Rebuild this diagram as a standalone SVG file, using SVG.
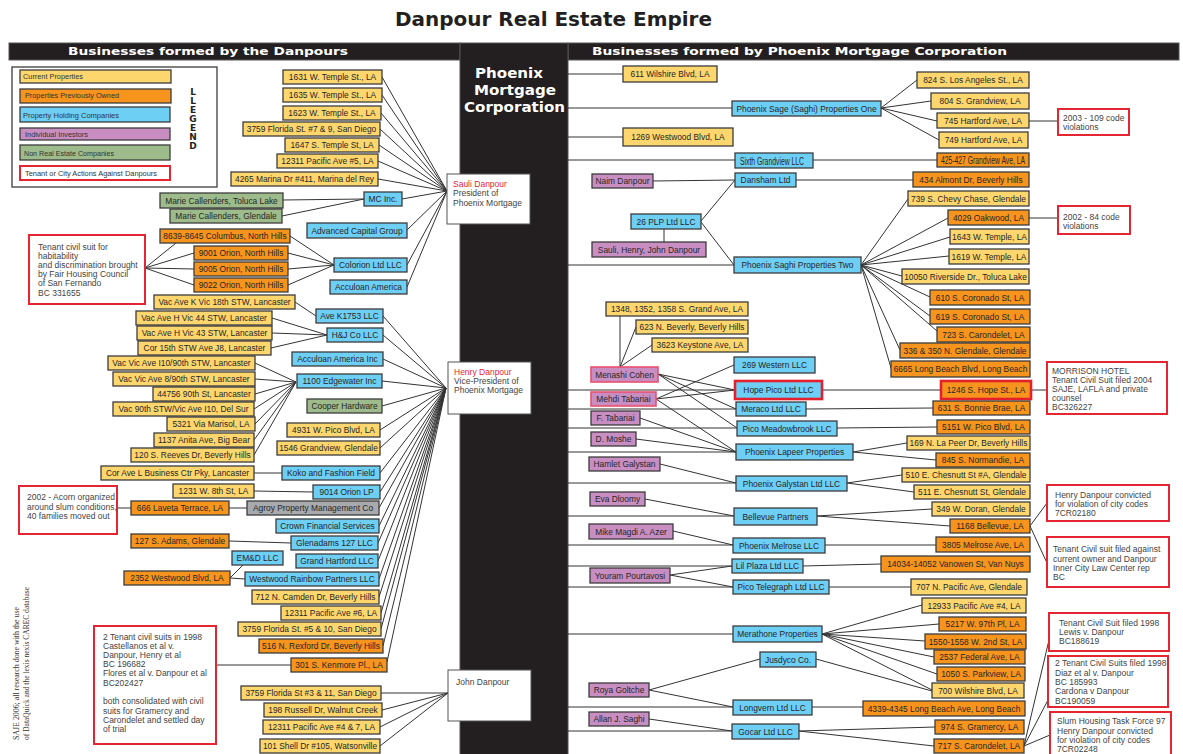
<svg xmlns="http://www.w3.org/2000/svg" width="1183" height="754" viewBox="0 0 1183 754">
<style>
rect{stroke:#3c3c3c;stroke-width:1.3}
.y{fill:#FDD76E}.o{fill:#F7941E}.b{fill:#6ECFF5}.p{fill:#C88EC2}.g{fill:#9EBC8B}.gr{fill:#A8AAAD}
.pk{fill:#C88EC2;stroke:#E9506E;stroke-width:1.6}
.hr{stroke:#E3202B;stroke-width:2.6}
.rb{fill:#fff;stroke:#E52531;stroke-width:2}
.wb{fill:#fff;stroke:#555;stroke-width:1}
.bar{fill:#231F20;stroke:#555;stroke-width:1}
.t{font-family:"Liberation Sans",Arial,sans-serif;font-size:8.4px;fill:#262626;text-anchor:middle}
.tn{font-family:"Liberation Sans",Arial,sans-serif;font-size:10px;fill:#262626}
.tl{font-family:"Liberation Sans",Arial,sans-serif;font-size:8.5px;fill:#444}
.lg{font-family:"Liberation Sans",Arial,sans-serif;font-size:8px;fill:#333}
.hd{font-family:"DejaVu Sans",sans-serif;font-weight:bold;fill:#fff}
.c{stroke:#333;stroke-width:1;fill:none}
</style>

<text x="395" y="26" font-family="DejaVu Sans, sans-serif" font-weight="bold" font-size="19" fill="#231F20" textLength="317" lengthAdjust="spacingAndGlyphs">Danpour Real Estate Empire</text>

<g id="headers">
<rect class="bar" x="9" y="43" width="451" height="17"/>
<rect class="bar" x="568" y="43" width="611" height="17"/>
<rect class="bar" x="460" y="43" width="108" height="712"/>
<text class="hd" x="68" y="55" font-size="11" textLength="280" lengthAdjust="spacingAndGlyphs">Businesses formed by the Danpours</text>
<text class="hd" x="592" y="55" font-size="11" textLength="415" lengthAdjust="spacingAndGlyphs">Businesses formed by Phoenix Mortgage Corporation</text>
<text class="hd" x="475" y="78" font-size="14" textLength="68" lengthAdjust="spacingAndGlyphs">Phoenix</text>
<text class="hd" x="474" y="95" font-size="14" textLength="82" lengthAdjust="spacingAndGlyphs">Mortgage</text>
<text class="hd" x="464" y="112" font-size="14" textLength="101" lengthAdjust="spacingAndGlyphs">Corporation</text>
</g>

<g id="legend">
<rect x="12" y="67" width="205" height="120" fill="#fff" stroke="#555" stroke-width="1.2"/>
<rect class="y" x="20" y="70" width="151" height="13"/>
<rect class="o" x="20" y="89" width="151" height="14"/>
<rect class="b" x="20" y="107" width="150" height="15"/>
<rect class="p" x="20" y="128" width="150" height="12"/>
<rect class="g" x="20" y="145" width="150" height="15"/>
<rect class="rb" x="20" y="166" width="150" height="14"/>
<text class="lg" x="23" y="79" textLength="60" lengthAdjust="spacingAndGlyphs">Current Properties</text>
<text class="lg" x="25" y="98" textLength="94" lengthAdjust="spacingAndGlyphs">Properties Previously Owned</text>
<text class="lg" x="23" y="118" textLength="96" lengthAdjust="spacingAndGlyphs">Property Holding Companies</text>
<text class="lg" x="25" y="137" textLength="63" lengthAdjust="spacingAndGlyphs">Individual Investors</text>
<text class="lg" x="24" y="156" textLength="90" lengthAdjust="spacingAndGlyphs">Non Real Estate Companies</text>
<text class="lg" x="25" y="176" textLength="132" lengthAdjust="spacingAndGlyphs">Tenant or City Actions Against Danpours</text>
<g font-family="DejaVu Sans, sans-serif" font-weight="bold" font-size="9" fill="#231F20" text-anchor="middle">
<text x="193" y="95">L</text><text x="193" y="104">L</text><text x="193" y="113">E</text><text x="193" y="122">G</text><text x="193" y="131">E</text><text x="193" y="140">N</text><text x="193" y="149">D</text>
</g>
</g>

<g id="connectors">
<path class="c" d="M382,77L447,191M382,95L447,191M381,113L447,191M380,129L447,191M379,145L447,191M378,161L447,191M378,179L447,191M402,199L447,191M407,230L447,191M407,265L447,191M407,287L447,191"/>
<path class="c" d="M283,200L364,199M282,216L364,199"/>
<path class="c" d="M290,236L334,265M288,253L334,265M288,269L334,265M288,285L334,265"/>
<path class="c" d="M145,268L176,243M145,268L194,253M145,268L194,269M145,268L194,285"/>
<path class="c" d="M383,316L446,388M383,335L446,388M383,359L446,388M382,381L446,388M382,406L446,388M380,430L446,388M380,448L446,388M380,473L446,388M380,492L446,388M379,508L446,388M379,526L446,388M378,543L446,388M378,561L446,388M379,579L446,388M379,597L446,388M381,613L446,388M381,629L446,388M383,646L446,388M387,662L446,388"/>
<path class="c" d="M295,302L316,316M272,318L327,335M272,333L327,335M271,348L327,335"/>
<path class="c" d="M255,363L296,382M255,379L296,382M255,394L296,382M254,409L296,382M255,424L296,382M254,440L296,382M254,455L296,382"/>
<path class="c" d="M254,473L282,473M254,491L313,492M117,508L131,508M229,508L247,508M229,541L291,543M230,578L243,565M230,578L245,579M216,665L291,665"/>
<path class="c" d="M381,693L448,693M382,710L448,693M380,727L448,693M380,746L448,693"/>
<path class="c" d="M568,74H623M568,108H732M568,137H623M568,160H735M568,265H734M568,390H735M568,409H736M568,428H737M568,452H736M568,483H736M568,516H734M568,545H733M568,566H732M568,587H733M568,634H733M568,707H733M568,731H732"/>
<path class="c" d="M881,108L917,80M881,108L931,101M881,108L937,121M881,108L939,140M1029,121H1058"/>
<path class="c" d="M813,160H937M653,181L735,180M796,180H913M701,221L735,180M701,222L734,265M664,242V229"/>
<path class="c" d="M861,265L908,199M861,265L948,218M861,265L950,237M861,265L949,256M861,265L902,276M861,265L930,297M861,265L930,316M861,265L937,331M861,265L900,350M861,265L891,368M1029,218H1058"/>
<path class="c" d="M620,316V367M620,367L636,327M620,367L652,345"/>
<path class="c" d="M658,374L735,390M658,374L736,409M658,374L737,428M656,399L734,365M656,399L735,390M656,399L736,452M640,418L736,452M636,439L736,452M660,464L736,483M645,499L734,516M673,531L733,545M670,575L732,566M670,575L733,587M649,690L760,659M649,690L733,707M649,719L732,731"/>
<path class="c" d="M822,390H941M1031,390H1047M806,409L933,408M837,428L937,427M853,452L907,443M853,452L936,460M847,483L902,475M847,483L914,492M817,516L932,509M817,516L950,526M1030,526L1047,503M1030,526L1047,563M825,545H936M803,566L881,564M829,587L911,587"/>
<path class="c" d="M822,634L922,605M822,634L939,624M822,634L925,641M822,634L934,657M822,634L937,674M822,634L932,690M816,659L932,691M812,707H863M799,731L935,727M799,731L934,746M1024,746L1049,640M1024,746L1048,700M1024,746L1050,735"/>
</g>

<g id="sauli"><rect class="wb" x="447" y="174" width="83" height="50"/><text class="tl" x="453" y="187" style="fill:#E52531">Sauli Danpour</text><text class="tl" x="453" y="196">President of</text><text class="tl" x="453" y="206">Phoenix Mortgage</text></g>
<g id="henry"><rect class="wb" x="448" y="362" width="83" height="52"/><text class="tl" x="454" y="375" style="fill:#E52531">Henry Danpour</text><text class="tl" x="454" y="384">Vice-President of</text><text class="tl" x="454" y="393">Phoenix Mortgage</text></g>
<g id="john"><rect class="wb" x="448" y="670" width="83" height="51"/><text class="tl" x="456" y="685">John Danpour</text></g>

<g id="L01"><rect class="y" x="283" y="70" width="99" height="14"/><text class="t" x="332.5" y="80">1631 W. Temple St., LA</text></g>
<g id="L02"><rect class="y" x="283" y="88" width="99" height="14"/><text class="t" x="332.5" y="98">1635 W. Temple St., LA</text></g>
<g id="L03"><rect class="y" x="283" y="106" width="98" height="14"/><text class="t" x="332" y="116">1623 W. Temple St., LA</text></g>
<g id="L04"><rect class="y" x="243" y="122" width="137" height="14"/><text class="t" x="311.5" y="132">3759 Florida St. #7 &amp; 9, San Diego</text></g>
<g id="L05"><rect class="y" x="285" y="138" width="94" height="14"/><text class="t" x="332" y="148">1647 S. Temple St, LA</text></g>
<g id="L06"><rect class="y" x="277" y="154" width="101" height="14"/><text class="t" x="327.5" y="164">12311 Pacific Ave #5, LA</text></g>
<g id="L07"><rect class="y" x="231" y="172" width="147" height="14"/><text class="t" x="304.5" y="182">4265 Marina Dr #411, Marina del Rey</text></g>
<g id="L08"><rect class="g" x="160" y="193" width="123" height="15"/><text class="t" x="221.5" y="203.5">Marie Callenders, Toluca Lake</text></g>
<g id="L09"><rect class="g" x="170" y="209" width="112" height="14"/><text class="t" x="226" y="219">Marie Callenders, Glendale</text></g>
<g id="L10"><rect class="b" x="364" y="192" width="38" height="14"/><text class="t" x="383" y="202">MC Inc.</text></g>
<g id="L11"><rect class="b" x="307" y="223" width="100" height="15"/><text class="t" x="357" y="233.5">Advanced Capital Group</text></g>
<g id="L12"><rect class="o" x="160" y="229" width="130" height="14"/><text class="t" x="225" y="239">8639-8645 Columbus, North Hills</text></g>
<g id="L13"><rect class="o" x="194" y="246" width="94" height="14"/><text class="t" x="241" y="256">9001 Orion, North Hills</text></g>
<g id="L14"><rect class="o" x="194" y="262" width="94" height="14"/><text class="t" x="241" y="272">9005 Orion, North Hills</text></g>
<g id="L15"><rect class="o" x="194" y="278" width="94" height="14"/><text class="t" x="241" y="288">9022 Orion, North Hills</text></g>
<g id="L16"><rect class="b" x="334" y="258" width="73" height="14"/><text class="t" x="370.5" y="268">Colorion Ltd LLC</text></g>
<g id="L17"><rect class="b" x="330" y="280" width="77" height="14"/><text class="t" x="368.5" y="290">Acculoan America</text></g>
<g id="L18"><rect class="y" x="154" y="295" width="141" height="14"/><text class="t" x="224.5" y="305">Vac Ave K Vic 18th STW, Lancaster</text></g>
<g id="L19"><rect class="y" x="136" y="311" width="136" height="14"/><text class="t" x="204" y="321">Vac Ave H Vic 44 STW, Lancaster</text></g>
<g id="L20"><rect class="y" x="137" y="326" width="135" height="14"/><text class="t" x="204.5" y="336">Vac Ave H Vic 43 STW, Lancaster</text></g>
<g id="L21"><rect class="y" x="138" y="341" width="133" height="14"/><text class="t" x="204.5" y="351">Cor 15th STW Ave J8, Lancaster</text></g>
<g id="L22"><rect class="b" x="316" y="309" width="67" height="14"/><text class="t" x="349.5" y="319">Ave K1753 LLC</text></g>
<g id="L23"><rect class="b" x="327" y="328" width="56" height="14"/><text class="t" x="355" y="338">H&amp;J Co LLC</text></g>
<g id="L24"><rect class="b" x="292" y="352" width="91" height="14"/><text class="t" x="337.5" y="362">Acculoan America Inc</text></g>
<g id="L25"><rect class="b" x="297" y="374" width="85" height="14"/><text class="t" x="339.5" y="384">1100 Edgewater Inc</text></g>
<g id="L26"><rect class="y" x="108" y="356" width="147" height="14"/><text class="t" x="181.5" y="366">Vac Vic Ave I10/90th STW, Lancaster</text></g>
<g id="L27"><rect class="y" x="113" y="372" width="142" height="14"/><text class="t" x="184" y="382">Vac Vic Ave 8/90th STW, Lancaster</text></g>
<g id="L28"><rect class="y" x="153" y="387" width="102" height="14"/><text class="t" x="204" y="397">44756 90th St, Lancaster</text></g>
<g id="L29"><rect class="y" x="113" y="402" width="141" height="14"/><text class="t" x="183.5" y="412">Vac 90th STW/Vic Ave I10, Del Sur</text></g>
<g id="L30"><rect class="y" x="167" y="417" width="88" height="14"/><text class="t" x="211" y="427">5321 Via Marisol, LA</text></g>
<g id="L31"><rect class="y" x="154" y="433" width="100" height="14"/><text class="t" x="204" y="443">1137 Anita Ave, Big Bear</text></g>
<g id="L32"><rect class="y" x="131" y="448" width="123" height="14"/><text class="t" x="192.5" y="458">120 S. Reeves Dr, Beverly Hills</text></g>
<g id="L33"><rect class="g" x="307" y="399" width="75" height="14"/><text class="t" x="344.5" y="409">Cooper Hardware</text></g>
<g id="L34"><rect class="y" x="287" y="423" width="93" height="14"/><text class="t" x="333.5" y="433">4931 W. Pico Blvd, LA</text></g>
<g id="L35"><rect class="y" x="277" y="441" width="103" height="14"/><text class="t" x="328.5" y="451">1546 Grandview, Glendale</text></g>
<g id="L36"><rect class="y" x="101" y="466" width="153" height="14"/><text class="t" x="177.5" y="476">Cor Ave L Business Ctr Pky, Lancaster</text></g>
<g id="L37"><rect class="b" x="282" y="466" width="98" height="14"/><text class="t" x="331" y="476">Koko and Fashion Field</text></g>
<g id="L38"><rect class="y" x="173" y="484" width="81" height="14"/><text class="t" x="213.5" y="494">1231 W. 8th St, LA</text></g>
<g id="L39"><rect class="b" x="313" y="485" width="67" height="14"/><text class="t" x="346.5" y="495">9014 Orion LP</text></g>
<g id="L40"><rect class="o" x="131" y="501" width="98" height="14"/><text class="t" x="180" y="511">666 Laveta Terrace, LA</text></g>
<g id="L41"><rect class="gr" x="247" y="501" width="132" height="14"/><text class="t" x="313" y="511">Agroy Property Management Co</text></g>
<g id="L42"><rect class="b" x="276" y="519" width="103" height="14"/><text class="t" x="327.5" y="529">Crown Financial Services</text></g>
<g id="L43"><rect class="o" x="131" y="534" width="98" height="14"/><text class="t" x="180" y="544">127 S. Adams, Glendale</text></g>
<g id="L44"><rect class="b" x="291" y="536" width="87" height="14"/><text class="t" x="334.5" y="546">Glenadams 127 LLC</text></g>
<g id="L45"><rect class="b" x="232" y="551" width="51" height="14"/><text class="t" x="257.5" y="561">EM&amp;D LLC</text></g>
<g id="L46"><rect class="b" x="296" y="554" width="82" height="14"/><text class="t" x="337" y="564">Grand Hartford LLC</text></g>
<g id="L47"><rect class="o" x="124" y="571" width="106" height="14"/><text class="t" x="177" y="581">2352 Westwood Blvd, LA</text></g>
<g id="L48"><rect class="b" x="245" y="572" width="134" height="14"/><text class="t" x="312" y="582">Westwood Rainbow Partners LLC</text></g>
<g id="L49"><rect class="y" x="252" y="590" width="127" height="14"/><text class="t" x="315.5" y="600">712 N. Camden Dr, Beverly Hills</text></g>
<g id="L50"><rect class="y" x="281" y="606" width="100" height="14"/><text class="t" x="331" y="616">12311 Pacific Ave #6, LA</text></g>
<g id="L51"><rect class="y" x="238" y="622" width="143" height="14"/><text class="t" x="309.5" y="632">3759 Florida St. #5 &amp; 10, San Diego</text></g>
<g id="L52"><rect class="o" x="259" y="639" width="124" height="14"/><text class="t" x="321" y="649">516 N. Rexford Dr, Beverly Hills</text></g>
<g id="L53"><rect class="o" x="291" y="658" width="96" height="14"/><text class="t" x="339" y="668">301 S. Kenmore Pl., LA</text></g>
<g id="L54"><rect class="y" x="241" y="686" width="140" height="14"/><text class="t" x="311" y="696">3759 Florida St #3 &amp; 11, San Diego</text></g>
<g id="L55"><rect class="y" x="264" y="703" width="118" height="14"/><text class="t" x="323" y="713">198 Russell Dr, Walnut Creek</text></g>
<g id="L56"><rect class="y" x="263" y="720" width="117" height="14"/><text class="t" x="321.5" y="730">12311 Pacific Ave #4 &amp; 7, LA</text></g>
<g id="L57"><rect class="y" x="260" y="739" width="120" height="14"/><text class="t" x="320" y="749">101 Shell Dr #105, Watsonville</text></g>

<g id="act-fairhousing"><rect class="rb" x="29" y="235" width="116" height="69"/>
<text class="tl" x="38" y="250">Tenant civil suit for</text><text class="tl" x="38" y="259">habitability</text><text class="tl" x="38" y="268">and discrimination brought</text><text class="tl" x="38" y="277">by Fair Housing Council</text><text class="tl" x="38" y="286">of San Fernando</text><text class="tl" x="38" y="296">BC 331655</text></g>
<g id="act-acorn"><rect class="rb" x="19" y="486" width="98" height="48"/>
<text class="tl" x="27" y="500">2002 - Acorn organized</text><text class="tl" x="27" y="510">around slum conditions,</text><text class="tl" x="27" y="519">40 families moved out</text></g>
<g id="act-castellanos"><rect class="rb" x="94" y="626" width="122" height="118"/>
<text class="tl" x="103" y="640">2 Tenant civil suits in 1998</text><text class="tl" x="103" y="649">Castellanos et al v.</text><text class="tl" x="103" y="658">Danpour, Henry et al</text><text class="tl" x="103" y="667">BC 196682</text><text class="tl" x="103" y="676">Flores et al v. Danpour et al</text><text class="tl" x="103" y="686">BC202427</text><text class="tl" x="103" y="704">both consolidated with civil</text><text class="tl" x="103" y="714">suits for Gramercy and</text><text class="tl" x="103" y="723">Carondelet and settled day</text><text class="tl" x="103" y="732">of trial</text></g>

<g id="credit" font-family="Liberation Serif, serif" font-size="7.8" fill="#333">
<text transform="translate(19,740) rotate(-90)" textLength="133" lengthAdjust="spacingAndGlyphs">SAJE 2006; all research done with the use</text>
<text transform="translate(29,740) rotate(-90)" textLength="153" lengthAdjust="spacingAndGlyphs">of DataQuick and the lexis nexis CAREC database</text>
</g>

<g id="R01"><rect class="y" x="623" y="66" width="94" height="16"/><text class="t" x="670" y="77">611 Wilshire Blvd, LA</text></g>
<g id="R02"><rect class="b" x="732" y="101" width="149" height="15"/><text class="t" x="806.5" y="111.5" font-size="8.2">Phoenix Sage (Saghi) Properties One</text></g>
<g id="R03"><rect class="y" x="623" y="128" width="110" height="18"/><text class="t" x="678" y="140">1269 Westwood Blvd, LA</text></g>
<g id="R04"><rect class="b" x="735" y="153" width="78" height="15"/><text class="tn" x="740" y="164.5" textLength="64" lengthAdjust="spacingAndGlyphs">Sixth Grandview LLC</text></g>
<g id="R05"><rect class="p" x="592" y="174" width="61" height="14"/><text class="t" x="622.5" y="184">Naim Danpour</text></g>
<g id="R06"><rect class="b" x="735" y="173" width="61" height="14"/><text class="t" x="765.5" y="183">Dansham Ltd</text></g>
<g id="R07"><rect class="b" x="631" y="214" width="70" height="15"/><text class="t" x="666" y="224.5">26 PLP Ltd LLC</text></g>
<g id="R08"><rect class="p" x="592" y="242" width="114" height="15"/><text class="t" x="649" y="252.5">Sauli, Henry, John Danpour</text></g>
<g id="R09"><rect class="b" x="734" y="257" width="127" height="16"/><text class="t" x="797.5" y="268">Phoenix Saghi Properties Two</text></g>
<g id="R10"><rect class="y" x="917" y="72" width="112" height="16"/><text class="t" x="973" y="83">824 S. Los Angeles St., LA</text></g>
<g id="R11"><rect class="y" x="931" y="93" width="98" height="16"/><text class="t" x="980" y="104">804 S. Grandview, LA</text></g>
<g id="R12"><rect class="y" x="937" y="113" width="92" height="15"/><text class="t" x="983" y="123.5">745 Hartford Ave, LA</text></g>
<g id="R13"><rect class="y" x="939" y="132" width="89" height="16"/><text class="t" x="983.5" y="143">749 Hartford Ave, LA</text></g>
<g id="R14"><rect class="o" x="937" y="153" width="92" height="14"/><text class="tn" x="941" y="163.5" textLength="84" lengthAdjust="spacingAndGlyphs">425-427 Grandview Ave, LA</text></g>
<g id="R15"><rect class="o" x="913" y="172" width="116" height="15"/><text class="t" x="971" y="182.5">434 Almont Dr, Beverly Hills</text></g>
<g id="R16"><rect class="y" x="908" y="191" width="121" height="15"/><text class="t" x="968.5" y="201.5">739 S. Chevy Chase, Glendale</text></g>
<g id="R17"><rect class="o" x="948" y="210" width="81" height="15"/><text class="t" x="988.5" y="220.5">4029 Oakwood, LA</text></g>
<g id="R18"><rect class="y" x="950" y="229" width="79" height="15"/><text class="t" x="989.5" y="239.5">1643 W. Temple, LA</text></g>
<g id="R19"><rect class="y" x="949" y="249" width="80" height="15"/><text class="t" x="989" y="259.5">1619 W. Temple, LA</text></g>
<g id="R20"><rect class="y" x="902" y="269" width="127" height="15"/><text class="t" x="965.5" y="279.5">10050 Riverside Dr., Toluca Lake</text></g>
<g id="R21"><rect class="o" x="930" y="290" width="100" height="15"/><text class="t" x="980" y="300.5">610 S. Coronado St, LA</text></g>
<g id="R22"><rect class="o" x="930" y="309" width="100" height="15"/><text class="t" x="980" y="319.5">619 S. Coronado St, LA</text></g>
<g id="R23"><rect class="o" x="937" y="327" width="93" height="15"/><text class="t" x="983.5" y="337.5">723 S. Carondelet, LA</text></g>
<g id="R24"><rect class="o" x="900" y="343" width="130" height="15"/><text class="t" x="965" y="353.5">336 &amp; 350 N. Glendale, Glendale</text></g>
<g id="R25"><rect class="o" x="891" y="361" width="139" height="16"/><text class="t" x="960.5" y="372">6665 Long Beach Blvd, Long Beach</text></g>
<g id="R26"><rect class="y" x="606" y="302" width="142" height="14"/><text class="t" x="677" y="312">1348, 1352, 1358 S. Grand Ave, LA</text></g>
<g id="R27"><rect class="y" x="636" y="320" width="112" height="14"/><text class="t" x="692" y="330">623 N. Beverly, Beverly Hills</text></g>
<g id="R28"><rect class="y" x="652" y="338" width="96" height="14"/><text class="t" x="700" y="348">3623 Keystone Ave, LA</text></g>
<g id="R29"><rect class="pk" x="591" y="367" width="67" height="15"/><text class="t" x="624.5" y="377.5">Menashi Cohen</text></g>
<g id="R30"><rect class="pk" x="591" y="392" width="65" height="14"/><text class="t" x="623.5" y="402">Mehdi Tabariai</text></g>
<g id="R31"><rect class="p" x="591" y="411" width="49" height="14"/><text class="t" x="615.5" y="421">F. Tabariai</text></g>
<g id="R32"><rect class="p" x="591" y="432" width="45" height="14"/><text class="t" x="613.5" y="442">D. Moshe</text></g>
<g id="R33"><rect class="p" x="589" y="457" width="71" height="14"/><text class="t" x="624.5" y="467">Hamlet Galystan</text></g>
<g id="R34"><rect class="p" x="590" y="492" width="55" height="14"/><text class="t" x="617.5" y="502">Eva Dloomy</text></g>
<g id="R35"><rect class="p" x="589" y="524" width="84" height="15"/><text class="t" x="631" y="534.5">Mike Magdi A. Azer</text></g>
<g id="R36"><rect class="p" x="590" y="568" width="80" height="15"/><text class="t" x="630" y="578.5">Youram Pourtavosi</text></g>
<g id="R37"><rect class="p" x="589" y="683" width="60" height="14"/><text class="t" x="619" y="693">Roya Goltche</text></g>
<g id="R38"><rect class="p" x="589" y="712" width="60" height="14"/><text class="t" x="619" y="722">Allan J. Saghi</text></g>
<g id="R39"><rect class="b" x="734" y="357" width="81" height="16"/><text class="t" x="774.5" y="368">269 Western LLC</text></g>
<g id="R40"><rect class="b hr" x="735" y="381" width="87" height="18"/><text class="t" x="778.5" y="393">Hope Pico Ltd LLC</text></g>
<g id="R41"><rect class="b" x="736" y="402" width="70" height="14"/><text class="t" x="771" y="412">Meraco Ltd LLC</text></g>
<g id="R42"><rect class="b" x="737" y="421" width="100" height="15"/><text class="t" x="787" y="431.5">Pico Meadowbrook LLC</text></g>
<g id="R43"><rect class="b" x="736" y="444" width="117" height="16"/><text class="t" x="794.5" y="455">Phoenix Lapeer Properties</text></g>
<g id="R44"><rect class="b" x="736" y="476" width="111" height="15"/><text class="t" x="791.5" y="486.5">Phoenix Galystan Ltd LLC</text></g>
<g id="R45"><rect class="b" x="734" y="508" width="83" height="17"/><text class="t" x="775.5" y="519.5">Bellevue Partners</text></g>
<g id="R46"><rect class="b" x="733" y="538" width="92" height="15"/><text class="t" x="779" y="548.5">Phoenix Melrose LLC</text></g>
<g id="R47"><rect class="b" x="732" y="559" width="71" height="14"/><text class="t" x="767.5" y="569">Lil Plaza Ltd LLC</text></g>
<g id="R48"><rect class="b" x="733" y="580" width="96" height="14"/><text class="t" x="781" y="590">Pico Telegraph Ltd LLC</text></g>
<g id="R49"><rect class="b" x="733" y="626" width="89" height="16"/><text class="t" x="777.5" y="637">Merathone Properties</text></g>
<g id="R50"><rect class="b" x="760" y="652" width="56" height="15"/><text class="t" x="788" y="662.5">Jusdyco Co.</text></g>
<g id="R51"><rect class="b" x="733" y="700" width="79" height="15"/><text class="t" x="772.5" y="710.5">Longvern Ltd LLC</text></g>
<g id="R52"><rect class="b" x="732" y="724" width="67" height="15"/><text class="t" x="765.5" y="734.5">Gocar Ltd LLC</text></g>
<g id="R53"><rect class="o hr" x="941" y="381" width="90" height="18"/><text class="t" x="986" y="393">1246 S. Hope St., LA</text></g>
<g id="R54"><rect class="o" x="933" y="401" width="97" height="14"/><text class="t" x="981.5" y="411">631 S. Bonnie Brae, LA</text></g>
<g id="R55"><rect class="o" x="937" y="420" width="93" height="14"/><text class="t" x="983.5" y="430">5151 W. Pico Blvd, LA</text></g>
<g id="R56"><rect class="y" x="907" y="436" width="123" height="14"/><text class="t" x="968.5" y="446">169 N. La Peer Dr, Beverly Hills</text></g>
<g id="R57"><rect class="o" x="936" y="453" width="94" height="14"/><text class="t" x="983" y="463">845 S. Normandie, LA</text></g>
<g id="R58"><rect class="y" x="902" y="468" width="128" height="14"/><text class="t" x="966" y="478">510 E. Chesnutt St #A, Glendale</text></g>
<g id="R59"><rect class="y" x="914" y="485" width="116" height="14"/><text class="t" x="972" y="495">511 E. Chesnutt St, Glendale</text></g>
<g id="R60"><rect class="y" x="932" y="502" width="98" height="14"/><text class="t" x="981" y="512">349 W. Doran, Glendale</text></g>
<g id="R61"><rect class="o" x="950" y="519" width="80" height="14"/><text class="t" x="990" y="529">1168 Bellevue, LA</text></g>
<g id="R62"><rect class="o" x="936" y="537" width="94" height="15"/><text class="t" x="983" y="547.5">3805 Melrose Ave, LA</text></g>
<g id="R63"><rect class="o" x="881" y="556" width="149" height="16"/><text class="t" x="955.5" y="567">14034-14052 Vanowen St, Van Nuys</text></g>
<g id="R64"><rect class="y" x="911" y="579" width="116" height="16"/><text class="t" x="969" y="590">707 N. Pacific Ave, Glendale</text></g>
<g id="R65"><rect class="y" x="922" y="598" width="104" height="15"/><text class="t" x="974" y="608.5">12933 Pacific Ave #4, LA</text></g>
<g id="R66"><rect class="o" x="939" y="617" width="87" height="14"/><text class="t" x="982.5" y="627">5217 W. 97th Pl, LA</text></g>
<g id="R67"><rect class="o" x="925" y="634" width="101" height="15"/><text class="t" x="975.5" y="644.5">1550-1558 W. 2nd St, LA</text></g>
<g id="R68"><rect class="o" x="934" y="650" width="91" height="14"/><text class="t" x="979.5" y="660">2537 Federal Ave, LA</text></g>
<g id="R69"><rect class="o" x="937" y="667" width="88" height="14"/><text class="t" x="981" y="677">1050 S. Parkview, LA</text></g>
<g id="R70"><rect class="y" x="932" y="683" width="92" height="15"/><text class="t" x="978" y="693.5">700 Wilshire Blvd, LA</text></g>
<g id="R71"><rect class="o" x="863" y="701" width="162" height="15"/><text class="t" x="944" y="711.5">4339-4345 Long Beach Ave, Long Beach</text></g>
<g id="R72"><rect class="o" x="935" y="720" width="89" height="14"/><text class="t" x="979.5" y="730">974 S. Gramercy, LA</text></g>
<g id="R73"><rect class="o" x="934" y="739" width="90" height="14"/><text class="t" x="979" y="749">717 S. Carondelet, LA</text></g>

<g id="act-109"><rect class="rb" x="1058" y="109" width="71" height="26"/><text class="tl" x="1063" y="121">2003 - 109 code</text><text class="tl" x="1063" y="130">violations</text></g>
<g id="act-84"><rect class="rb" x="1058" y="206" width="72" height="28"/><text class="tl" x="1063" y="220">2002 - 84 code</text><text class="tl" x="1063" y="229">violations</text></g>
<g id="act-morrison"><rect class="rb" x="1047" y="362" width="120" height="52"/><text class="tl" x="1052" y="374">MORRISON HOTEL</text><text class="tl" x="1052" y="383">Tenant Civil Suit filed 2004</text><text class="tl" x="1052" y="392">SAJE, LAFLA and private</text><text class="tl" x="1052" y="401">counsel</text><text class="tl" x="1052" y="410">BC326227</text></g>
<g id="act-7CR02180"><rect class="rb" x="1047" y="485" width="122" height="36"/><text class="tl" x="1055" y="498">Henry Danpour convicted</text><text class="tl" x="1055" y="507">for violation of city codes</text><text class="tl" x="1055" y="516">7CR02180</text></g>
<g id="act-innercity"><rect class="rb" x="1047" y="537" width="122" height="50"/><text class="tl" x="1053" y="552">Tenant Civil suit filed against</text><text class="tl" x="1053" y="562">current owner and Danpour</text><text class="tl" x="1053" y="571">Inner City Law Center rep</text><text class="tl" x="1053" y="580">BC</text></g>
<g id="act-lewis"><rect class="rb" x="1049" y="613" width="120" height="38"/><text class="tl" x="1059" y="626">Tenant Civil Suit filed 1998</text><text class="tl" x="1059" y="635">Lewis v. Danpour</text><text class="tl" x="1059" y="644">BC188619</text></g>
<g id="act-diaz"><rect class="rb" x="1048" y="656" width="120" height="51"/><text class="tl" x="1055" y="666">2 Tenant Civil Suits filed 1998</text><text class="tl" x="1055" y="676">Diaz et al v. Danpour</text><text class="tl" x="1055" y="685">BC 185993</text><text class="tl" x="1055" y="694">Cardona v Danpour</text><text class="tl" x="1055" y="704">BC190059</text></g>
<g id="act-slum"><rect class="rb" x="1050" y="712" width="121" height="48"/><text class="tl" x="1057" y="724">Slum Housing Task Force 97</text><text class="tl" x="1057" y="734">Henry Danpour convicted</text><text class="tl" x="1057" y="743">for violation of city codes</text><text class="tl" x="1057" y="752">7CR02248</text></g>
</svg>
